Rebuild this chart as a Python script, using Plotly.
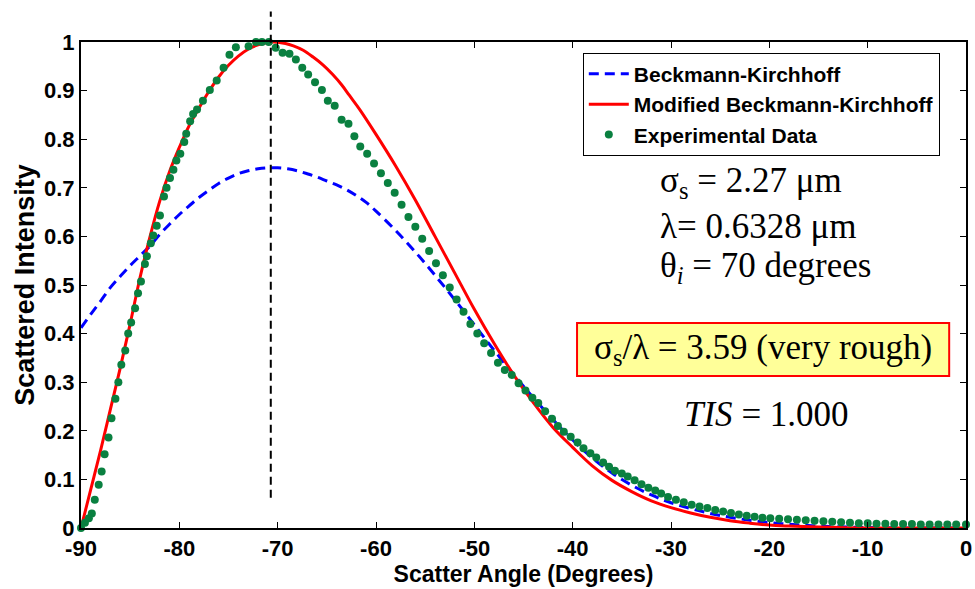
import plotly.graph_objects as go

# ---------------- data ----------------
bk_x = [-90, -89, -88, -87, -86, -85, -84, -83, -82, -81, -80, -79, -78, -77, -76, -75, -74, -73,
        -72, -71, -70, -69, -68, -67, -66, -65, -64, -63, -62, -61, -60, -58, -56, -54, -52, -50,
        -48, -46, -44, -42, -40, -38, -36, -34, -32, -30, -28, -26, -24, -22, -20, -18, -16, -14,
        -12, -10, -5, 0]
bk_y = [0.412, 0.44, 0.467, 0.495, 0.518, 0.54, 0.56, 0.58, 0.604, 0.625, 0.645, 0.663, 0.68, 0.695,
        0.709, 0.72, 0.729, 0.735, 0.739, 0.741, 0.741, 0.739, 0.735, 0.729, 0.722, 0.714, 0.706, 0.696,
        0.684, 0.670, 0.652, 0.612, 0.568, 0.520, 0.470, 0.418, 0.366, 0.316, 0.268, 0.223, 0.181,
        0.144, 0.113, 0.088, 0.068, 0.052, 0.040, 0.030, 0.022, 0.016, 0.011, 0.008, 0.005, 0.003,
        0.002, 0.001, 0.0, 0.0]

mbk_x = [-90, -89, -88, -87, -86, -85, -84, -83, -82, -81, -80, -79, -78, -77, -76, -75, -74, -73,
         -72, -71, -70.4, -69.2, -68.4, -67.4, -66.4, -65.4, -64.4, -63.5, -62.7, -61.65, -60, -58,
         -56, -54, -52, -50, -48, -46, -44, -42, -40, -38, -36, -34, -32, -30, -28, -26, -24, -22,
         -20, -18, -15, -10, -5, 0]
mbk_y = [0.0, 0.08, 0.16, 0.245, 0.33, 0.42, 0.515, 0.598, 0.672, 0.733, 0.783, 0.828, 0.864, 0.898,
         0.928, 0.952, 0.971, 0.985, 0.994, 0.999, 1.0, 0.997, 0.992, 0.983, 0.969, 0.953, 0.933, 0.912,
         0.890, 0.861, 0.81, 0.745, 0.675, 0.60, 0.525, 0.45, 0.38, 0.315, 0.258, 0.207, 0.166, 0.128,
         0.098, 0.075, 0.056, 0.042, 0.031, 0.022, 0.015, 0.010, 0.006, 0.004, 0.002, 0.0, 0.0, 0.0]

exp_x = [-90.0, -89.6, -89.2, -88.9, -88.6, -88.2, -87.9, -87.6, -87.2, -86.9, -86.5, -86.2, -85.9,
         -85.5, -85.2, -84.9, -84.5, -84.2, -83.9, -83.5, -83.3, -82.9, -82.65, -82.3, -81.97, -81.56,
         -81.3, -80.95, -80.6, -80.3, -79.9, -79.5, -79.3, -78.9, -78.6, -78.2, -77.6, -76.9, -76.2,
         -75.5, -74.9, -74.25, -73.6, -72.96, -72.2, -71.6, -70.9, -70.2, -69.5, -68.8, -68.15, -67.5,
         -66.9, -66.2, -65.5, -64.9, -64.2, -63.5, -62.8, -62.2, -61.6, -60.9, -60.2, -59.5, -58.8,
         -58.1, -57.4, -56.7, -56.0, -55.3, -54.6, -53.9, -53.2, -52.5, -51.8, -51.1, -50.4, -49.7,
         -49.0, -48.3, -47.6, -46.9, -46.2, -45.5, -44.8, -44.1, -43.5, -42.8, -42.1, -41.5, -40.9,
         -40.2, -39.5, -38.9, -38.2, -37.6, -36.9, -36.3, -35.7, -35.0, -34.4, -33.7, -33.0, -32.3,
         -31.6, -31.0, -30.3, -29.5, -28.7, -27.9, -27.1, -26.3, -25.5, -24.7, -23.9, -23.1, -22.3,
         -21.5, -20.7, -19.9, -19.0, -18.1, -17.2, -16.3, -15.4, -14.5, -13.6, -12.7, -11.8, -10.9,
         -10.0, -9.1, -8.2, -7.3, -6.4, -5.5, -4.6, -3.7, -2.8, -1.9, -1.0, 0.0]
exp_y = [0.0, 0.011, 0.02, 0.030, 0.058, 0.089, 0.116, 0.152, 0.186, 0.226, 0.266, 0.300, 0.336,
         0.365, 0.400, 0.423, 0.452, 0.483, 0.507, 0.543, 0.559, 0.586, 0.602, 0.622, 0.643, 0.682,
         0.700, 0.720, 0.737, 0.756, 0.770, 0.794, 0.811, 0.837, 0.852, 0.861, 0.879, 0.901, 0.921,
         0.947, 0.974, 0.989, 1.002, 0.991, 1.0, 1.0, 1.0, 0.988, 0.978, 0.976, 0.964, 0.947,
         0.933, 0.917, 0.901, 0.879, 0.869, 0.840, 0.832, 0.806, 0.785, 0.77, 0.75, 0.73, 0.71,
         0.69, 0.665, 0.64, 0.62, 0.595, 0.57, 0.545, 0.52, 0.495, 0.47, 0.445, 0.42, 0.40,
         0.38, 0.36, 0.34, 0.325, 0.315, 0.298, 0.283, 0.268, 0.257, 0.24, 0.225, 0.21, 0.198,
         0.188, 0.176, 0.164, 0.154, 0.145, 0.135, 0.126, 0.118, 0.112, 0.106, 0.098, 0.09, 0.083,
         0.077, 0.071, 0.064, 0.058, 0.053, 0.048, 0.044, 0.041, 0.037, 0.034, 0.031, 0.028, 0.025,
         0.023, 0.021, 0.020, 0.019, 0.018, 0.017, 0.016, 0.015, 0.014, 0.013, 0.012, 0.011, 0.010,
         0.010, 0.009, 0.009, 0.008, 0.008, 0.008, 0.007, 0.007, 0.007, 0.007, 0.007, 0.007]

peak_angle = -70.7
peak_line_y = [0.062, 1.063]

x_ticks = [-90, -80, -70, -60, -50, -40, -30, -20, -10, 0]
y_ticks = [0, 0.1, 0.2, 0.3, 0.4, 0.5, 0.6, 0.7, 0.8, 0.9, 1]
y_tick_text = ["0", "0.1", "0.2", "0.3", "0.4", "0.5", "0.6", "0.7", "0.8", "0.9", "1"]
x_range = [-90, 0]
y_range = [0, 1]

labels = ["Beckmann-Kirchhoff", "Modified Beckmann-Kirchhoff", "Experimental Data"]

# ---------------- figure ----------------
fig = go.Figure()
fig.add_trace(go.Scatter(x=bk_x, y=bk_y, mode="lines", name=labels[0],
                         line=dict(color="#0000ff", width=3, dash="10px,6px"), line_shape="spline"))
fig.add_trace(go.Scatter(x=mbk_x, y=mbk_y, mode="lines", name=labels[1],
                         line=dict(color="#ff0000", width=3), line_shape="spline"))
fig.add_trace(go.Scatter(x=exp_x, y=exp_y, mode="markers", name=labels[2],
                         marker=dict(color="#0a8040", size=8), cliponaxis=False))

def paper_x(v):
    return (v - x_range[0]) / (x_range[1] - x_range[0])

fig.add_shape(type="line", xref="paper", yref="paper",
              x0=paper_x(peak_angle), x1=paper_x(peak_angle), y0=peak_line_y[0], y1=peak_line_y[1],
              line=dict(color="black", width=2, dash="8px,5px"))

serif = "Liberation Serif, Times New Roman, serif"
tsize = 35
fig.add_annotation(xref="paper", yref="paper", x=0.652, y=0.711, xanchor="left", yanchor="middle",
                   text="σ<sub>s</sub> = 2.27 μm", showarrow=False, font=dict(family=serif, size=tsize, color="black"))
fig.add_annotation(xref="paper", yref="paper", x=0.652, y=0.620, xanchor="left", yanchor="middle",
                   text="λ= 0.6328 μm", showarrow=False, font=dict(family=serif, size=tsize, color="black"))
fig.add_annotation(xref="paper", yref="paper", x=0.652, y=0.536, xanchor="left", yanchor="middle",
                   text="θ<sub><i>i</i></sub> = 70 degrees", showarrow=False, font=dict(family=serif, size=tsize, color="black"))
fig.add_shape(type="rect", xref="paper", yref="paper", x0=0.5605, x1=0.981, y0=0.313, y1=0.422,
              line=dict(color="#ff0000", width=2), fillcolor="#ffff99", layer="above")
fig.add_annotation(xref="paper", yref="paper", x=0.771, y=0.368, xanchor="center", yanchor="middle",
                   text="σ<sub>s</sub>/λ = 3.59 (very rough)", showarrow=False,
                   font=dict(family=serif, size=tsize, color="black"))
fig.add_annotation(xref="paper", yref="paper", x=0.775, y=0.233, xanchor="center", yanchor="middle",
                   text="<i>TIS</i> = 1.000", showarrow=False, font=dict(family=serif, size=tsize, color="black"))

sans = "Liberation Sans, Arial, sans-serif"
axis_common = dict(showline=True, linecolor="black", linewidth=2, mirror="ticks", ticks="inside",
                   ticklen=6, tickcolor="black", tickwidth=1, showgrid=False, zeroline=False,
                   tickfont=dict(family=sans, size=22, color="black", weight="bold"))
fig.update_xaxes(range=x_range, tickvals=x_ticks, ticktext=[str(t) for t in x_ticks],
                 title=dict(text="<b>Scatter Angle (Degrees)</b>", font=dict(family=sans, size=23, color="black"),
                            standoff=4), **axis_common)
fig.update_yaxes(range=y_range, tickvals=y_ticks, ticktext=y_tick_text,
                 title=dict(text="<b>Scattered Intensity</b>", font=dict(family=sans, size=27, color="black"),
                            standoff=2), **axis_common)

fig.update_layout(
    width=975, height=589,
    margin=dict(l=81, r=9, t=42, b=61, autoexpand=False),
    plot_bgcolor="white", paper_bgcolor="white",
    legend=dict(x=0.567, y=0.978, xanchor="left", yanchor="top", bordercolor="black", borderwidth=1,
                bgcolor="white", font=dict(family=sans, size=21, color="black", weight="bold"),
                tracegroupgap=0, itemwidth=40),
)

fig.write_html("out.html")
